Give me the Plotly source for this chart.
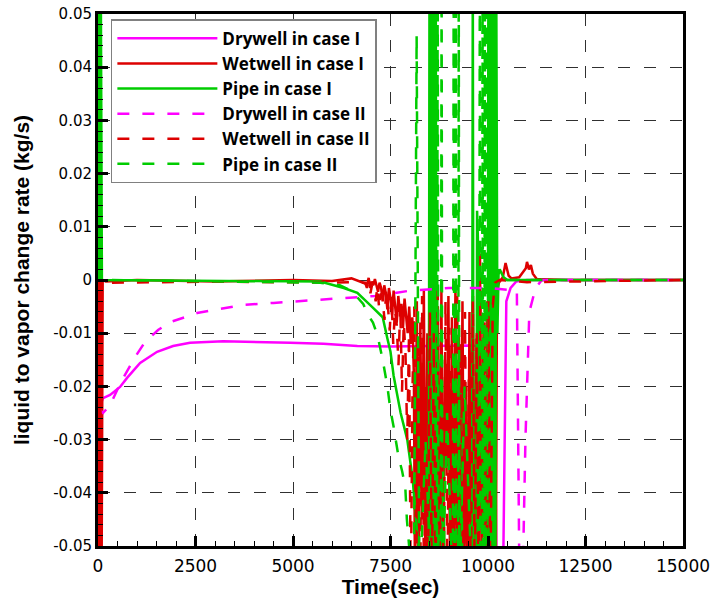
import plotly.graph_objects as go

# ---------------- data ----------------
x_ticks = [0, 2500, 5000, 7500, 10000, 12500, 15000]
x_ticktext = ["0", "2500", "5000", "7500", "10000", "12500", "15000"]
y_ticks = [0.05, 0.04, 0.03, 0.02, 0.01, 0, -0.01, -0.02, -0.03, -0.04, -0.05]
y_ticktext = ["0.05", "0.04", "0.03", "0.02", "0.01", "0", "-0.01", "-0.02", "-0.03", "-0.04", "-0.05"]

series_names = ["Drywell in case I", "Wetwell in case I", "Pipe in case I",
                "Drywell in case II", "Wetwell in case II", "Pipe in case II"]

# Drywell, case I
dw1_t = [0, 60, 130, 310, 565, 745, 1080, 1515, 1925, 2360, 3210, 4080, 4930, 5780,
         6650, 7500, 8500, 9500, 10100, 10180, 10230, 10380, 10470, 10580, 10720, 11000, 15000]
dw1_y = [-0.020, -0.0235, -0.0222, -0.0216, -0.0201, -0.0184, -0.0156, -0.0135, -0.0124,
         -0.0118, -0.0115, -0.0116, -0.0118, -0.0120, -0.0124, -0.0125, -0.0124, -0.0123,
         -0.0125, -0.030, -0.060, -0.060, -0.004, -0.0015, -0.0003, 0.0, 0.0]

# Wetwell, case I
ww1_t = [0, 30, 60, 90, 120, 200, 1000, 3000, 5000, 6000, 6500,
         6900, 6940, 6980, 7020, 7060, 7100, 7140, 7180, 7220, 7260, 7300, 7340, 7380, 7420,
         7460, 7500, 7540, 7580, 7620, 7660, 7700, 7740, 7780, 7820, 7860, 7900, 7940, 7980,
         8020, 8060, 8100,
         8130, 8175, 8220, 8265, 8310, 8355, 8400, 8445, 8490, 8535, 8580, 8625, 8670, 8715,
         8760, 8805, 8850, 8895, 8940, 8985, 9030, 9075, 9120, 9165, 9210, 9255, 9300, 9345,
         9390, 9435, 9480, 9525, 9570, 9615, 9660, 9705, 9750, 9795, 9840, 9885, 9930, 9975,
         10020, 10060, 10080, 10100, 10120, 10140, 10160, 10180, 10200, 10230,
         10280, 10380, 10450, 10500, 10530, 10600, 10800, 10970, 11000, 11050, 11100, 11150,
         11250, 12000, 15000]
ww1_y = [0.0, -0.060, 0.0, -0.060, 0.0, -0.0003, 0.0, -0.0003, 0.0, -0.0002, 0.0003,
         -0.0008, 0.0004, -0.0015, -0.0003, -0.0010, 0.0002, -0.0008, -0.0022, -0.0005,
         -0.0015, -0.0040, -0.0010, -0.0025, -0.0055, -0.0015, -0.0035, -0.0065, -0.0020,
         -0.0050, -0.0080, -0.0030, -0.0060, -0.0045, -0.0090, -0.0035, -0.0070, -0.0100,
         -0.0050, -0.0120, -0.0070, -0.0180,
         -0.060, -0.004, -0.060, -0.008, -0.045, -0.002, -0.060, -0.010, -0.060, -0.003,
         -0.060, -0.012, -0.060, -0.005, -0.060, -0.002, -0.060, -0.015, -0.035, -0.003,
         -0.060, -0.007, -0.060, -0.001, -0.060, -0.009, -0.060, -0.004, -0.060, -0.020,
         -0.060, -0.006, -0.060, -0.003, -0.060, -0.011, -0.060, 0.005, -0.060, -0.008,
         -0.060, -0.004, -0.060, -0.030, -0.060, -0.010, -0.060, -0.020, -0.060, -0.010,
         -0.060, -0.002,
         -0.0005, 0.0005, 0.0032, 0.0020, 0.0008, 0.0003, 0.0005, 0.0022, 0.0034, 0.0020,
         0.0028, 0.0012, 0.0002, 0.0, 0.0]

# Pipe, case I
p1_t = [0, 30, 50, 70, 100, 5700, 6300, 6650, 7060, 7300, 7420, 7500, 7580, 7760, 7930,
        8070, 8140, 8220, 8300,
        8480, 8500, 8520, 8540, 8560, 8580, 8600, 8620, 8640, 8660, 8680,
        8800, 8850, 8900, 9250, 9300, 9350,
        9590, 9610, 9630, 9700, 9720, 9740, 9760,
        9990, 10010, 10030, 10050, 10070, 10090, 10110, 10130, 10150, 10170, 10190, 10210,
        10240, 10270, 10300, 10400, 10500, 15000]
p1_y = [0.0, 0.060, 0.0, 0.060, 0.0, -0.0003, -0.0015, -0.0024, -0.0053, -0.0070, -0.0110,
        -0.0135, -0.0180, -0.0250, -0.0300, -0.0375, -0.0440, -0.0500, -0.060,
        -0.060, 0.060, -0.060, 0.060, -0.060, 0.060, -0.060, 0.060, -0.060, 0.060, -0.060,
        -0.060, -0.035, -0.060, -0.060, -0.020, -0.060,
        -0.060, 0.060, -0.060, -0.060, 0.013, 0.008, -0.060,
        -0.060, 0.060, -0.060, 0.060, -0.060, 0.060, -0.060, 0.060, -0.060, 0.060, -0.060, 0.060,
        -0.010, 0.001, 0.002, 0.0005, 0.0, 0.0]

# Drywell, case II
dw2_t = [0, 130, 310, 600, 950, 1200, 1540, 1850, 2230, 2540, 3000, 3700, 4500, 5100, 5800,
         6500, 7100, 7500, 8000, 9000, 10000, 10740, 10810, 10880, 10960, 11060, 11220,
         11380, 15000]
dw2_y = [-0.024, -0.025, -0.0235, -0.019, -0.0145, -0.0117, -0.0094, -0.0079, -0.0070,
         -0.0062, -0.0056, -0.0047, -0.0043, -0.0040, -0.0037, -0.0034, -0.0030, -0.0026,
         -0.0020, -0.0015, -0.0015, -0.0020, -0.060, -0.060, -0.030, -0.006, -0.0015, 0.0, 0.0]

# Wetwell, case II
ww2_t = [0, 40, 80, 120, 300, 3000, 6000, 6500,
         6850, 6895, 6940, 6985, 7030, 7075, 7120, 7165, 7210, 7255, 7300, 7345, 7390, 7435,
         7480, 7525, 7570, 7615, 7660, 7705, 7750, 7795, 7840, 7885, 7930, 7975, 8020, 8065,
         8110, 8160, 8210, 8260, 8310, 8360, 8410, 8460, 8510, 8560, 8610, 8660, 8710, 8760,
         8810, 8860, 8910, 8960, 9010, 9060, 9110, 9160, 9210, 9260, 9310, 9360, 9410, 9460,
         9510, 9560, 9610, 9660, 9710, 9760, 9810, 9860, 9910, 9960, 10010, 10060,
         10120, 10180, 10300, 11000, 15000]
ww2_y = [0.0, -0.060, 0.0, -0.0003, -0.0005, -0.0003, -0.0005, -0.0004,
         -0.0005, -0.0015, -0.0004, -0.0025, -0.0008, -0.0018, -0.0040, -0.0012, -0.0055,
         -0.0025, -0.0035, -0.0075, -0.0020, -0.0050, -0.0095, -0.0030, -0.0120, -0.0055,
         -0.0085, -0.0160, -0.0045, -0.0210, -0.0080, -0.0140, -0.0300, -0.0100, -0.0600,
         -0.0200,
         -0.005, -0.060, -0.012, -0.060, -0.003, -0.060, -0.020, -0.060, -0.006, -0.060,
         -0.010, -0.060, -0.002, -0.060, -0.015, -0.060, -0.004, -0.060, -0.009, -0.060,
         -0.025, -0.060, -0.003, -0.060, -0.012, -0.060, -0.006, -0.060, -0.018, -0.060,
         -0.004, -0.060, -0.010, -0.060, -0.002, -0.060, -0.008, -0.060, -0.004, -0.060,
         -0.005, -0.0005, 0.0, -0.0004, 0.0]

# Pipe, case II
p2_t = [0, 40, 60, 100, 5700, 6200, 6500, 6800, 6930, 7050, 7170, 7250, 7300, 7420, 7500,
        7580, 7700, 7800, 7880, 7920, 7960, 8000, 8100, 8170, 8240,
        8400, 8550, 8690, 8710, 8730, 8790, 8810, 8830, 8950,
        9100, 9120, 9140, 9160, 9175, 9190, 9235, 9250, 9265, 9400, 9600,
        9770, 9790, 9810, 9845, 9860, 9875, 9905, 9920, 9935, 9955, 9970, 9985,
        10050, 10100, 10300, 15000]
p2_y = [0.0, 0.060, 0.0, 0.0, -0.0005, -0.0010, -0.0020, -0.0045, -0.0066, -0.0080,
        -0.0105, -0.0130, -0.0150, -0.0200, -0.0245, -0.0276, -0.0330, -0.0360, -0.0390,
        -0.0450, -0.0480, -0.0520, -0.060, 0.046, -0.060,
        -0.030, -0.060, -0.060, 0.060, -0.060, -0.060, 0.060, -0.060, -0.025,
        -0.060, 0.060, -0.060, -0.060, 0.060, -0.060, -0.060, 0.060, -0.060, -0.020, -0.060,
        -0.060, 0.060, -0.060, -0.060, 0.060, -0.060, -0.060, 0.060, -0.060, -0.060, 0.060, -0.060,
        -0.010, 0.0, 0.0, 0.0]

series_t = [dw1_t, ww1_t, p1_t, dw2_t, ww2_t, p2_t]
series_y = [dw1_y, ww1_y, p1_y, dw2_y, ww2_y, p2_y]
for a, b in zip(series_t, series_y):
    assert len(a) == len(b), (len(a), len(b))

# ---------------- styles ----------------
colors = ["#ff00ff", "#dd0000", "#00cc00", "#ff00ff", "#dd0000", "#00cc00"]
dashes = ["solid", "solid", "solid", "12px,13px", "12px,13px", "12px,13px"]
FONT = "Liberation Sans, Arial, sans-serif"
TICKFONT = "DejaVu Sans, Liberation Sans, sans-serif"
LEGFONT = "Open Sans, Liberation Sans, sans-serif"

fig = go.Figure()
for name, t, y, c, d in zip(series_names, series_t, series_y, colors, dashes):
    fig.add_trace(go.Scatter(x=t, y=y, mode="lines", name=name,
                             line=dict(color=c, width=2.5, dash=d)))

axis_common = dict(
    showline=True, linecolor="black", linewidth=3, mirror=True,
    ticks="inside", ticklen=10, tickwidth=3, tickcolor="black",
    showgrid=True, gridcolor="#303030", gridwidth=1.3, griddash="12px,14px",
    zeroline=False, automargin=False,
)

fig.update_xaxes(
    range=[0, 15000], tickvals=x_ticks, ticktext=x_ticktext,
    tickfont=dict(family=TICKFONT, size=17, color="black"),
    ticklabelstandoff=3,
    minor=dict(ticks="inside", ticklen=5, tickwidth=1.3, tickcolor="black", dtick=500,
               showgrid=False),
    title=dict(text="Time(sec)", font=dict(family=FONT, size=21, color="black", weight="bold"),
               standoff=4),
    **axis_common,
)
fig.update_yaxes(
    range=[-0.05, 0.05], tickvals=y_ticks, ticktext=y_ticktext,
    tickfont=dict(family=TICKFONT, size=15, color="black"),
    minor=dict(ticks="inside", ticklen=5, tickwidth=1.3, tickcolor="black", dtick=0.002,
               showgrid=False),
    title=dict(text="liquid to vapor change rate (kg/s)",
               font=dict(family=FONT, size=21, color="black", weight="bold"), standoff=18),
    **axis_common,
)

fig.update_layout(
    width=713, height=598,
    margin=dict(l=98, r=30, t=14, b=52, autoexpand=False),
    paper_bgcolor="white", plot_bgcolor="white",
    showlegend=True,
    legend=dict(x=0.022, y=0.99, xanchor="left", yanchor="top",
                bgcolor="white", bordercolor="#808080", borderwidth=1.5,
                font=dict(family=LEGFONT, size=17, color="black", weight="bold"),
                itemwidth=100, tracegroupgap=0),
)

fig.write_html("out.html")
